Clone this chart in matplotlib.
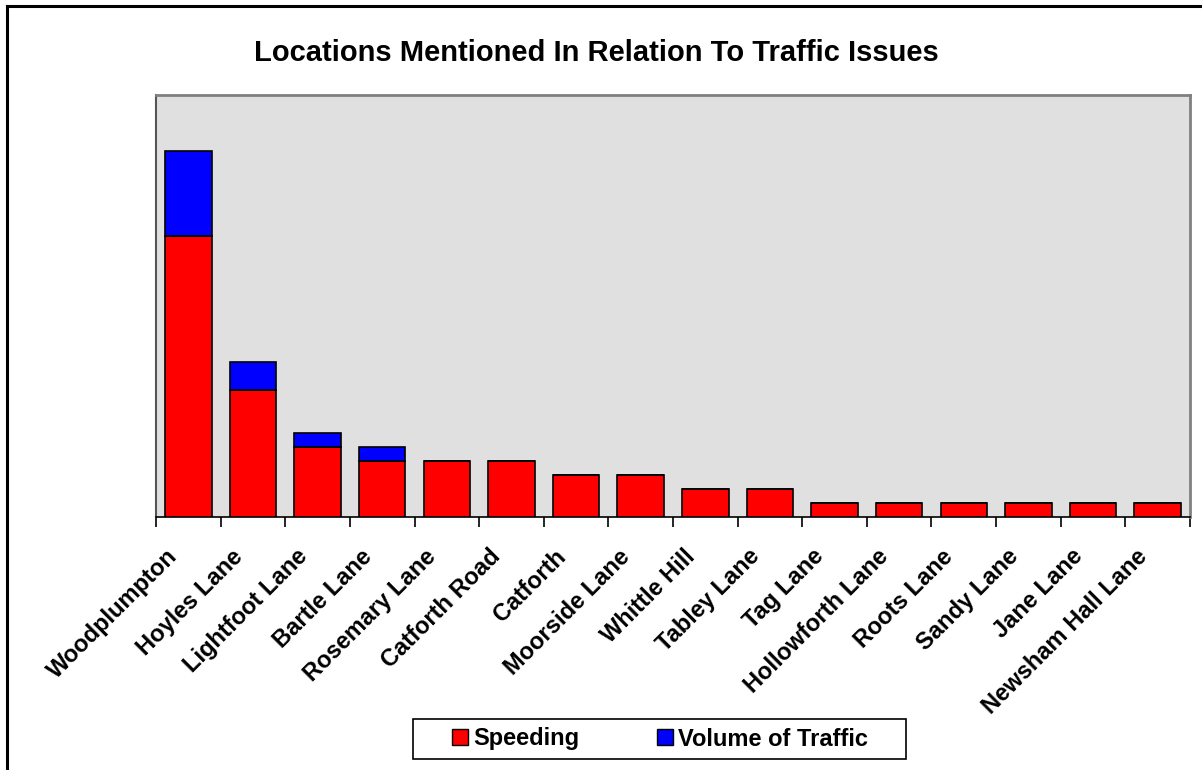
import numpy as np
import matplotlib
matplotlib.use("Agg")
import matplotlib.pyplot as plt
from matplotlib.lines import Line2D
from matplotlib.patches import Patch, Rectangle

plt.rcParams['font.family'] = ['Liberation Sans', 'DejaVu Sans']

locations = [
	"Woodplumpton", "Hoyles Lane", "Lightfoot Lane", "Bartle Lane",
	"Rosemary Lane", "Catforth Road", "Catforth", "Moorside Lane",
	"Whittle Hill", "Tabley Lane", "Tag Lane", "Hollowforth Lane",
	"Roots Lane", "Sandy Lane", "Jane Lane", "Newsham Hall Lane",
]
speeding = [20, 9, 5, 4, 4, 4, 3, 3, 2, 2, 1, 1, 1, 1, 1, 1]
volume = [6, 2, 1, 1, 0, 0, 0, 0, 0, 0, 0, 0, 0, 0, 0, 0]

W, H = 1202, 770
fig = plt.figure(figsize=(W / 100, H / 100), dpi=100)
ax = fig.add_axes([0.1298, 0.3286, 0.8602, 0.548])
ax.set_facecolor("#e0e0e0")

x = np.arange(len(locations))
ax.bar(x, speeding, width=0.72, color="#ff0000", edgecolor="black", linewidth=1.2, zorder=3)
ax.bar(x, volume, width=0.72, bottom=speeding, color="#0000ff", edgecolor="black", linewidth=1.2, zorder=3)

ax.set_xlim(-0.5, len(locations) - 0.5)
ax.set_ylim(0, 30)
ax.set_yticks([])

# ticks between categories, labels at category centres
ax.set_xticks(np.arange(len(locations) + 1) - 0.5)
ax.set_xticklabels([])
ax.tick_params(axis="x", direction="out", length=7, width=1.2, color="black")
for xi, name in zip(x, locations):
	ax.annotate(
		name, xy=(xi, 0), xycoords=("data", "axes fraction"),
		xytext=(-14, -36), textcoords="offset pixels",
		rotation=45, rotation_mode="anchor", ha="right", va="center",
		fontsize=17, fontweight="bold",
	)

ax.spines["bottom"].set_color("black")
ax.spines["bottom"].set_linewidth(1.2)
ax.spines["left"].set_color("#555555")
ax.spines["left"].set_linewidth(1.5)
for side in ("top", "right"):
	ax.spines[side].set_color("#808080")
	ax.spines[side].set_linewidth(2)

fig.text(0.496, 0.931, "Locations Mentioned In Relation To Traffic Issues",
	ha="center", va="center", fontsize=21, fontweight="bold")

handles = [
	Patch(facecolor="#ff0000", edgecolor="black", label="Speeding"),
	Patch(facecolor="#0000ff", edgecolor="black", label="Volume of Traffic"),
]
leg = fig.legend(
	handles=handles, loc="center", bbox_to_anchor=(660 / W, 1 - 739 / H), ncol=2,
	prop={"size": 17, "weight": "bold"}, frameon=False,
	handlelength=0.68, handleheight=0.68, handletextpad=0.22,
	columnspacing=3.3, borderaxespad=0,
)
# legend box drawn separately for the wide side padding
fig.add_artist(Rectangle((413 / W, 1 - 759 / H), 493 / W, 40 / H,
	transform=fig.transFigure, facecolor="white", edgecolor="black",
	linewidth=1.2, zorder=0))

# outer chart border (only top and left edges are inside the image)
fig.add_artist(Line2D([7 / W, 1], [1 - 6 / H] * 2, color="black", linewidth=2.2))
fig.add_artist(Line2D([7 / W] * 2, [0, 1 - 6 / H], color="black", linewidth=2.2))

fig.savefig("out.png", dpi=100)
